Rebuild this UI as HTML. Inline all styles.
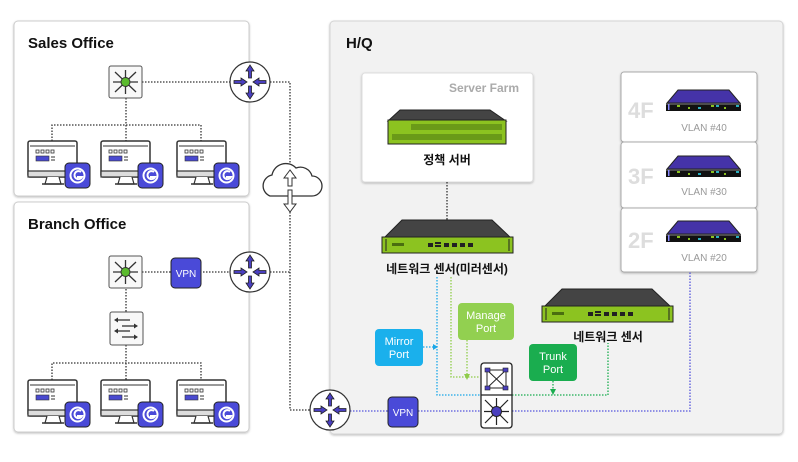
<!DOCTYPE html>
<html><head><meta charset="utf-8"><style>
html,body{margin:0;padding:0;background:#fff;}
svg{display:block;font-family:"Liberation Sans","Noto Sans CJK KR",sans-serif;}
</style></head><body>
<svg width="798" height="462" viewBox="0 0 798 462" xmlns="http://www.w3.org/2000/svg">
<defs>
<filter id="sh" x="-5%" y="-5%" width="110%" height="115%"><feDropShadow dx="0" dy="1" stdDeviation="1" flood-color="#000" flood-opacity="0.25"/></filter>
<g id="pc">
 <rect x="0" y="0" width="49" height="36" rx="2" fill="#fff" stroke="#333" stroke-width="1.5"/>
 <rect x="0" y="30" width="49" height="6" fill="#ddd" stroke="#333" stroke-width="1.2"/>
 <line x1="2" y1="5" x2="47" y2="5" stroke="#333"/>
 <rect x="8" y="9" width="3" height="3" fill="none" stroke="#333" stroke-width="0.8"/>
 <rect x="13" y="9" width="3" height="3" fill="none" stroke="#333" stroke-width="0.8"/>
 <rect x="18" y="9" width="3" height="3" fill="none" stroke="#333" stroke-width="0.8"/>
 <rect x="23" y="9" width="3" height="3" fill="none" stroke="#333" stroke-width="0.8"/>
 <rect x="8" y="15" width="13" height="5" fill="#4a4ad0" stroke="#333" stroke-width="0.6"/>
 <line x1="23" y1="16" x2="27" y2="16" stroke="#333"/><line x1="23" y1="19" x2="27" y2="19" stroke="#333"/>
 <path d="M19 36 L17 43 H33 L31 36" fill="#fff" stroke="#333" stroke-width="1.2"/>
 <line x1="14" y1="43" x2="36" y2="43" stroke="#333" stroke-width="1.5"/>
 <rect x="37" y="22" width="25" height="25" rx="4" fill="#4a4ad8" stroke="#222" stroke-width="1"/>
 <circle cx="49.5" cy="34.5" r="7" fill="none" stroke="#fff" stroke-width="2"/>
 <path d="M53 31 A4 4 0 1 0 54 36 H49" fill="none" stroke="#fff" stroke-width="2"/>
</g>
<g id="sw">
 <rect x="0" y="0" width="33" height="32" rx="2" fill="#f8f8f8" stroke="#555"/>
 <g stroke="#333" stroke-width="1.3">
 <line x1="6" y1="6" x2="27" y2="26"/><line x1="27" y1="6" x2="6" y2="26"/>
 <line x1="16.5" y1="4" x2="16.5" y2="28"/><line x1="4" y1="16" x2="29" y2="16"/></g>
 <circle cx="16.5" cy="16" r="4.5" fill="#5bbb2e" stroke="#333"/>
</g>
<g id="rt">
 <circle cx="0" cy="0" r="20" fill="#fff" stroke="#333" stroke-width="1.2"/>
 <g fill="#4a3fbf" stroke="#222" stroke-width="0.8">
 <path d="M0 -17 L-4 -11 H-1.5 V-4 H1.5 V-11 H4 Z"/>
 <path d="M0 17 L-4 11 H-1.5 V4 H1.5 V11 H4 Z"/>
 <path d="M-3 0 L-9 -4 V-1.5 H-16 V1.5 H-9 V4 Z"/>
 <path d="M3 0 L9 -4 V-1.5 H16 V1.5 H9 V4 Z"/>
 </g>
</g>
<g id="sensor">
 <path d="M20 0 H110 L129 18 H2 Z" fill="#444" stroke="#222"/>
 <rect x="0" y="17" width="131" height="16" fill="#8cc320" stroke="#222"/>
 <line x1="4" y1="19" x2="4" y2="31" stroke="#222"/><line x1="127" y1="19" x2="127" y2="31" stroke="#222"/>
 <g fill="#222"><rect x="10" y="23" width="12" height="3" fill="#4a6e10"/>
 <rect x="46" y="23" width="5" height="4"/><rect x="53" y="22" width="6" height="2"/><rect x="53" y="25" width="6" height="2"/>
 <rect x="62" y="23" width="5" height="4"/><rect x="70" y="23" width="5" height="4"/><rect x="78" y="23" width="5" height="4"/><rect x="86" y="23" width="5" height="4"/></g>
</g>
<g id="vsw">
 <path d="M12 0 H63 L74 13 H1 Z" fill="#4533a8" stroke="#222"/>
 <rect x="0" y="13" width="75" height="8" fill="#111"/>
 <line x1="0" y1="14" x2="75" y2="14" stroke="#fff" stroke-width="0.6"/>
 <g fill="#8cc320"><rect x="11" y="15" width="3" height="2"/><rect x="22" y="17" width="2" height="2"/><rect x="45" y="15" width="3" height="2"/><rect x="58" y="17" width="2" height="2"/></g>
 <g fill="#2ab0c0"><rect x="32" y="17" width="3" height="2"/><rect x="50" y="15" width="3" height="2"/><rect x="70" y="15" width="3" height="2"/></g>
 <rect x="2" y="14" width="1.5" height="6" fill="#88f"/>
</g>
</defs>

<!-- boxes -->
<rect x="14" y="21" width="235" height="175" rx="4" fill="#fff" stroke="#ccc" filter="url(#sh)"/>
<rect x="14" y="202" width="235" height="230" rx="4" fill="#fff" stroke="#ccc" filter="url(#sh)"/>
<rect x="330" y="21" width="453" height="413" rx="4" fill="#f2f2f2" stroke="#d4d4d4" filter="url(#sh)"/>
<text x="28" y="48" font-size="15" font-weight="bold" fill="#111">Sales Office</text>
<text x="28" y="229" font-size="15" font-weight="bold" fill="#111">Branch Office</text>
<text x="346" y="48" font-size="15" font-weight="bold" fill="#111">H/Q</text>

<!-- server farm -->
<rect x="362" y="73" width="171" height="109" rx="3" fill="#fff" stroke="#ddd" filter="url(#sh)"/>
<text x="519" y="92" font-size="12" font-weight="bold" fill="#aaa" text-anchor="end">Server Farm</text>
<path d="M400 110 H490 L506 121 H388 Z" fill="#444" stroke="#222"/>
<rect x="388" y="120" width="118" height="24" fill="#8cc320" stroke="#222"/>
<rect x="411" y="124" width="91" height="6" fill="#6a9a18"/>
<rect x="392" y="134" width="110" height="6" fill="#6a9a18"/>
<text x="447" y="164" font-size="12" font-weight="bold" fill="#111" text-anchor="middle">정책 서버</text>

<!-- floors -->
<rect x="621" y="72" width="136" height="70" rx="3" fill="#fff" stroke="#aaa" filter="url(#sh)"/>
<rect x="621" y="142" width="136" height="66" rx="3" fill="#fff" stroke="#aaa" filter="url(#sh)"/>
<rect x="621" y="208" width="136" height="64" rx="3" fill="#fff" stroke="#aaa" filter="url(#sh)"/>
<g font-size="22" font-weight="bold" fill="#ddd"><text x="628" y="118">4F</text><text x="628" y="184">3F</text><text x="628" y="248">2F</text></g>
<use href="#vsw" x="666" y="90"/><use href="#vsw" x="666" y="156"/><use href="#vsw" x="666" y="221"/>
<g font-size="10" fill="#999" text-anchor="middle"><text x="704" y="131">VLAN #40</text><text x="704" y="195">VLAN #30</text><text x="704" y="261">VLAN #20</text></g>

<!-- dotted lines -->
<g fill="none" stroke="#333" stroke-width="1.3" stroke-dasharray="1.5 1.5">
<path d="M142 82 H230 M270 82 H290 V410 H310"/>
<path d="M126 98 V125 M52 141 V125 H201 V141 M126 125 V141"/>
<path d="M142 272 H171 M200 272 H230 M270 272 H290"/>
<path d="M126 289 V312 M126 345 V363 M52 380 V363 H201 V380 M126 363 V380"/>
<path d="M447 182 V220"/>
</g>
<g fill="none" stroke-width="1.3" stroke-dasharray="1.5 1.5">
<path d="M350 411 H388 M418 411 H480 M512 411 H690 V272" stroke="#5555dd"/>
<path d="M437 277 V395 H480 M423 347 H435" stroke="#1aa7e8"/>
<path d="M451 277 V377 H480 M467 340 V375" stroke="#8fcc4a"/>
<path d="M512 395 H608 V343 M553 381 V393" stroke="#1aad4f"/>
</g>
<path d="M433 344 L438 347 L433 350 Z" fill="#1aa7e8"/>
<path d="M464 374 L467 380 L470 374 Z" fill="#8fcc4a"/>
<path d="M550 389 L553 395 L556 389 Z" fill="#1aad4f"/>

<!-- cloud -->
<path d="M270 196 H312 A10 10 0 0 0 312 176 A12 12 0 0 0 296 168 A14 14 0 0 0 272 175 A11 11 0 0 0 270 196 Z" fill="#fff" stroke="#333" stroke-width="1.3"/>
<path d="M290 170 L284 178 H288 V186 H292 V178 H296 Z" fill="#fff" stroke="#333"/>
<path d="M290 212 L284 204 H288 V190 H292 V204 H296 Z" fill="#fff" stroke="#333"/>

<!-- devices -->
<use href="#sw" x="109" y="66"/>
<use href="#sw" x="109" y="256"/>
<rect x="110" y="312" width="33" height="33" rx="2" fill="#f8f8f8" stroke="#555"/>
<g stroke="#333" stroke-width="1.3"><line x1="116" y1="320" x2="130" y2="320"/><line x1="122" y1="326" x2="136" y2="326"/><line x1="116" y1="331" x2="130" y2="331"/><line x1="122" y1="337" x2="136" y2="337"/></g>
<g fill="#333"><path d="M114 320 l4 -2.5 v5z"/><path d="M138 326 l-4 -2.5 v5z"/><path d="M114 331 l4 -2.5 v5z"/><path d="M138 337 l-4 -2.5 v5z"/></g>
<use href="#rt" x="250" y="82"/><use href="#rt" x="250" y="272"/><use href="#rt" x="330" y="410"/>
<rect x="171" y="258" width="30" height="30" rx="4" fill="#4a4ad8" stroke="#222"/>
<text x="186" y="277" font-size="10" fill="#fff" text-anchor="middle">VPN</text>
<rect x="388" y="397" width="30" height="30" rx="4" fill="#4a4ad8" stroke="#222"/>
<text x="403" y="416" font-size="10" fill="#fff" text-anchor="middle">VPN</text>
<use href="#pc" x="28" y="141"/><use href="#pc" x="101" y="141"/><use href="#pc" x="177" y="141"/>
<use href="#pc" x="28" y="380"/><use href="#pc" x="101" y="380"/><use href="#pc" x="177" y="380"/>

<!-- sensors -->
<use href="#sensor" x="382" y="220"/>
<text x="447" y="273" font-size="12" font-weight="bold" fill="#111" text-anchor="middle">네트워크 센서(미러센서)</text>
<use href="#sensor" x="542" y="289"/>
<text x="608" y="341" font-size="12" font-weight="bold" fill="#111" text-anchor="middle">네트워크 센서</text>

<!-- port labels -->
<rect x="375" y="329" width="48" height="37" rx="4" fill="#1ab0ec"/>
<text x="399" y="345" font-size="11" fill="#fff" text-anchor="middle">Mirror</text><text x="399" y="358" font-size="11" fill="#fff" text-anchor="middle">Port</text>
<rect x="458" y="303" width="56" height="37" rx="4" fill="#92d050"/>
<text x="486" y="319" font-size="11" fill="#fff" text-anchor="middle">Manage</text><text x="486" y="332" font-size="11" fill="#fff" text-anchor="middle">Port</text>
<rect x="529" y="344" width="48" height="37" rx="4" fill="#1aad4f"/>
<text x="553" y="360" font-size="11" fill="#fff" text-anchor="middle">Trunk</text><text x="553" y="373" font-size="11" fill="#fff" text-anchor="middle">Port</text>

<!-- core switch -->
<rect x="481" y="363" width="31" height="65" rx="3" fill="#fff" stroke="#222" stroke-width="1.3"/>
<line x1="481" y1="395" x2="512" y2="395" stroke="#222" stroke-width="1.3"/>
<g stroke="#222"><rect x="487" y="370" width="19" height="18" fill="none"/><line x1="487" y1="370" x2="506" y2="388"/><line x1="506" y1="370" x2="487" y2="388"/></g>
<g fill="#4a3fbf" stroke="#222" stroke-width="0.6"><rect x="485" y="368" width="5" height="4"/><rect x="503" y="368" width="5" height="4"/><rect x="485" y="386" width="5" height="4"/><rect x="503" y="386" width="5" height="4"/></g>
<g stroke="#222" stroke-width="1.2"><line x1="485" y1="400" x2="508" y2="423"/><line x1="508" y1="400" x2="485" y2="423"/><line x1="496.5" y1="398" x2="496.5" y2="425"/><line x1="484" y1="411.5" x2="509" y2="411.5"/></g>
<circle cx="496.5" cy="411.5" r="5" fill="#4a3fbf" stroke="#222"/>
</svg>
</body></html>
